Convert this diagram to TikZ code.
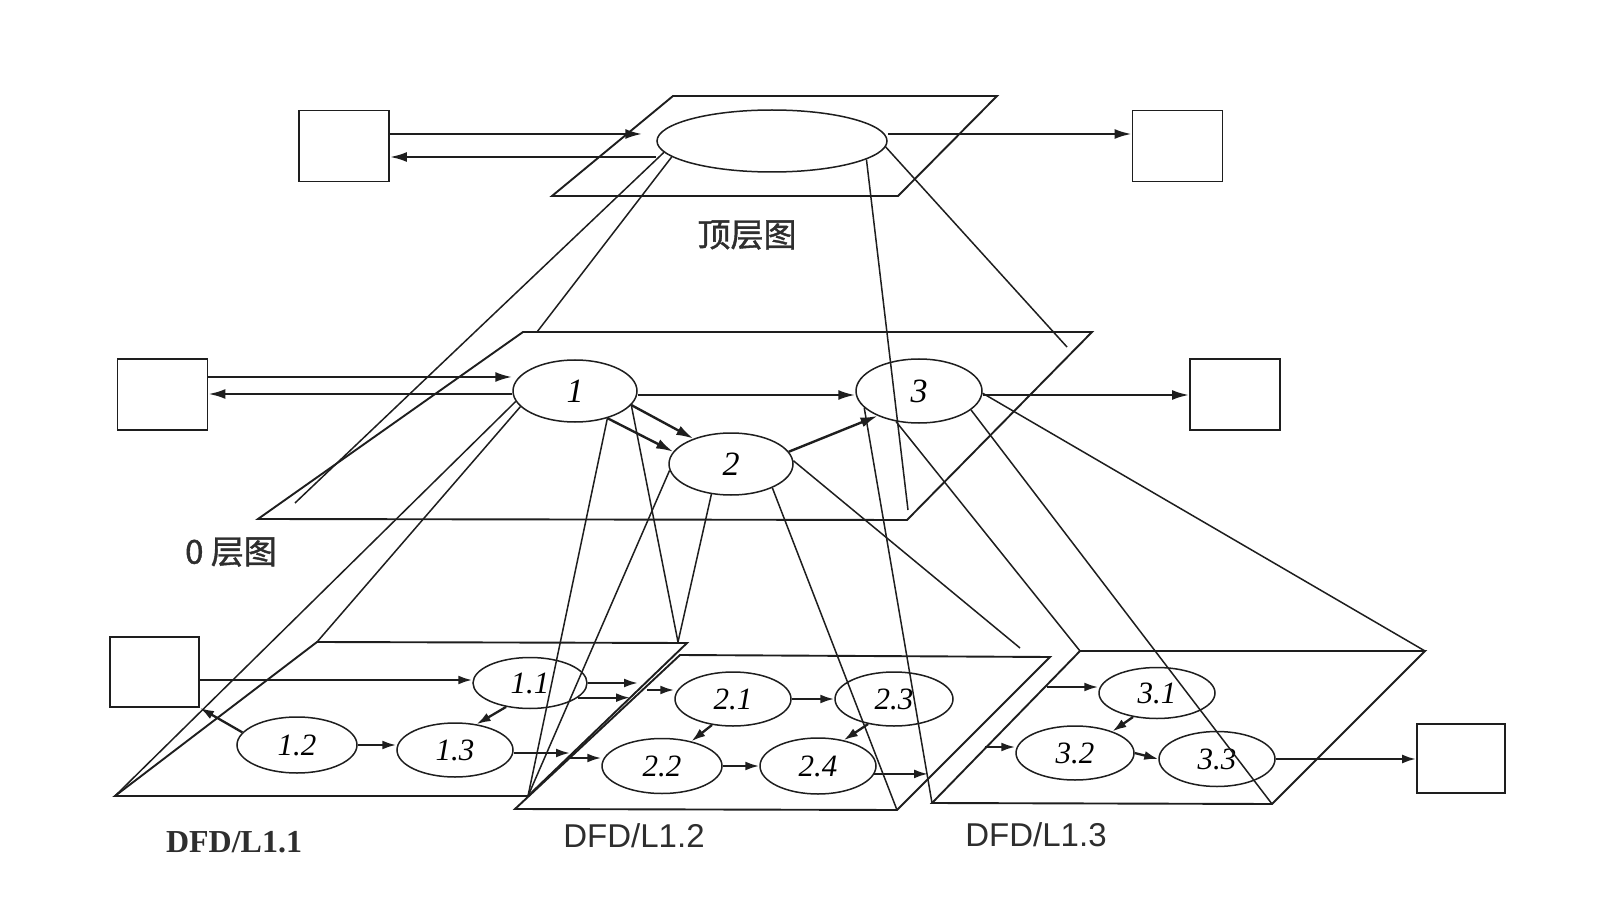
\documentclass[tikz,border=0pt]{standalone}
\usepackage{fontspec}
\setmainfont{Liberation Serif}
\setsansfont{Liberation Sans}
\newfontfamily\cjk[FakeBold=1.2]{Noto Sans CJK SC}
\usetikzlibrary{shapes.geometric,arrows.meta,calc}
\definecolor{ink}{HTML}{1E1E1E}
\definecolor{lab}{HTML}{2E2E2E}
\begin{document}
\begin{tikzpicture}[x=1pt,y=-1pt,
  box/.style={draw=ink, line width=1.9pt, minimum width=90pt, minimum height=71pt, inner sep=0pt},
  proc/.style={ellipse, draw=ink, line width=1.5pt, inner sep=0pt, font=\fontsize{31pt}{31pt}\selectfont\itshape},
  bigproc/.style={proc, font=\fontsize{34pt}{34pt}\selectfont\itshape},
  plane/.style={draw=ink, line width=1.9pt, line join=miter},
  proj/.style={draw=ink, line width=1.5pt},
  arr/.style={draw=ink, line width=2.4pt, -{Latex[length=17pt,width=10pt]}},
  sarr/.style={draw=ink, line width=2.3pt, -{Latex[length=14pt,width=9pt]}},
  lbl/.style={text=lab, inner sep=0pt}
]
\useasboundingbox (0,0) rectangle (1618,917);
\fill[white] (0,0) rectangle (1618,917);

% ---------- planes ----------
\coordinate (T1) at (673,96);  \coordinate (T2) at (997,96);
\coordinate (T3) at (898,196); \coordinate (T4) at (552,196);
\coordinate (Z1) at (523,332); \coordinate (Z2) at (1092,332);
\coordinate (Z3) at (907,520); \coordinate (Z4) at (258,519);
\coordinate (A1) at (317,642); \coordinate (A2) at (687,643);
\coordinate (A3) at (528,796); \coordinate (A4) at (115,796);
\coordinate (B1) at (680,655); \coordinate (B2) at (1050,657);
\coordinate (B3) at (897,810); \coordinate (B4) at (515,809);
\coordinate (C1) at (1080,651); \coordinate (C2) at (1425,651);
\coordinate (C3) at (1272,804); \coordinate (C4) at (932,803);

\draw[plane] (T1) -- (T2) -- (T3) -- (T4) -- cycle;
\draw[plane] (Z1) -- (Z2) -- (Z3) -- (Z4) -- cycle;
\draw[plane] (A1) -- (A2) -- (A3) -- (A4) -- cycle;
\draw[plane] (B1) -- (B2) -- (B3) -- (B4) -- cycle;
\draw[plane] (C1) -- (C2) -- (C3) -- (C4) -- cycle;

% free ends of projection lines
\coordinate (pA) at (295,503);
\coordinate (pB) at (537,332);
\coordinate (pC) at (1067,347);
\coordinate (pD) at (908,510);
\coordinate (pV) at (678,642);
\coordinate (pE) at (1020,648);

% free ends of boundary arrows
\coordinate (c1) at (638,683);
\coordinate (c2) at (630,697);
\coordinate (c3) at (647,690);
\coordinate (c4) at (570,753);
\coordinate (c5) at (570,758);
\coordinate (c6) at (928,774);
\coordinate (c7) at (1047,687);
\coordinate (c8) at (985,747);

% y levels
\coordinate (yT1) at (0,134);
\coordinate (yT2) at (0,157);
\coordinate (y01) at (0,377);
\coordinate (y02) at (0,394);
\coordinate (y03) at (0,395);
\coordinate (y11) at (0,680);

% ---------- nodes ----------
\node[box] (bT1) at (344,146) {};
\node[box] (bT2) at (1177.5,146) {};
\node[box] (b01) at (162.5,394.5) {};
\node[box] (b02) at (1235,394.5) {};
\node[box, minimum width=89pt, minimum height=70pt] (b11) at (154.5,672) {};
\node[box, minimum width=88pt, minimum height=69pt] (b12) at (1461,758.5) {};

\node[proc, minimum width=230pt, minimum height=62pt] (topE) at (772,141) {};
\node[bigproc, minimum width=124pt, minimum height=62pt] (e1) at (575,391) {1};
\node[bigproc, minimum width=124pt, minimum height=62pt] (e2) at (731,464) {2};
\node[bigproc, minimum width=126pt, minimum height=64pt] (e3) at (919,391) {3};

\node[proc, minimum width=114pt, minimum height=51pt] (e11) at (530,683) {1.1};
\node[proc, minimum width=120pt, minimum height=56pt] (e12) at (297,745) {1.2};
\node[proc, minimum width=116pt, minimum height=54pt] (e13) at (455,750) {1.3};
\node[proc, minimum width=116pt, minimum height=54pt] (e21) at (733,699) {2.1};
\node[proc, minimum width=120pt, minimum height=55pt] (e22) at (662,766) {2.2};
\node[proc, minimum width=118pt, minimum height=54pt] (e23) at (894,699) {2.3};
\node[proc, minimum width=116pt, minimum height=56pt] (e24) at (818,766) {2.4};
\node[proc, minimum width=116pt, minimum height=51pt] (e31) at (1157,693) {3.1};
\node[proc, minimum width=118pt, minimum height=54pt] (e32) at (1075,753) {3.2};
\node[proc, minimum width=116pt, minimum height=55pt] (e33) at (1217,759) {3.3};

% ---------- labels ----------
\node[lbl, font=\cjk\fontsize{33pt}{33pt}\selectfont] (lt) at (747,235) {顶层图};
\node[lbl, font=\cjk\fontsize{33pt}{33pt}\selectfont] (l0) at (231,552) {0 层图};
\node[lbl, font=\rmfamily\bfseries\fontsize{32pt}{32pt}\selectfont] (l11) at (234,842) {DFD/L1.1};
\node[lbl, font=\sffamily\fontsize{33pt}{33pt}\selectfont] (l12) at (634,836) {DFD/L1.2};
\node[lbl, font=\sffamily\fontsize{33pt}{33pt}\selectfont] (l13) at (1036,835) {DFD/L1.3};

% ---------- projection lines ----------
\draw[proj] (topE.186) -- (pA);
\draw[proj] (topE.189) -- (pB);
\draw[proj] (topE.-3) -- (pC);
\draw[proj] (topE.-11) -- (pD);
\draw[proj] (e1.190) -- (A4);
\draw[proj] (e1.196) -- (A1);
\draw[proj] (e1.-40) -- (A3);
\draw[proj] (e1.-14) -- (pV);
\draw[proj] (e2.186) -- (A3);
\draw[proj] (e2.237) -- (pV);
\draw[proj] (e2.-30) -- (B3);
\draw[proj] (e2.3) -- (pE);
\draw[proj] (e3.197) -- (C4);
\draw[proj] (e3.233) -- (C1);
\draw[proj] (e3.-20) -- (C3);
\draw[proj] (e3.-2) -- (C2);

% ---------- top level flows ----------
\draw[arr, shorten >=14pt] (bT1.east |- yT1) -- (topE.west |- yT1);
\draw[arr] (topE.west |- yT2) -- (bT1.east |- yT2);
\draw[arr] (topE.east |- yT1) -- (bT2.west |- yT1);

% ---------- level 0 flows ----------
\draw[arr] (b01.east |- y01) -- (e1.west |- y01);
\draw[arr] (e1.west |- y02) -- (b01.east |- y02);
\draw[arr] (e1.east |- y03) -- (e3.west |- y03);
\draw[arr] (e3.east |- y03) -- (b02.west |- y03);
\draw[arr] (e1.-14) -- (e2.146);
\draw[arr] (e1.-40) -- (e2.168);
\draw[arr] (e2.12) -- (e3.211);

% ---------- level 1 flows ----------
\draw[sarr] (b11.east |- y11) -- (e11.west |- y11);
\draw[sarr] (e12.167) -- (b11.south east);
\draw[sarr] (e12.east) -- (e13.west |- e12.east);
\draw[sarr] (e11.225) -- (e13.50);
\draw[sarr] (e11.east) -- (c1);
\draw[sarr] (e11.-17) -- (e11.-17 -| c2);
\draw[sarr] (c3) -- (e21.west |- c3);
\draw[sarr] (e13.east |- c4) -- (c4);
\draw[sarr] (c5) -- (e22.west |- c5);
\draw[sarr] (e21.east) -- (e23.west);
\draw[sarr] (e22.east) -- (e24.west);
\draw[sarr] (e21.231) -- (e22.40);
\draw[sarr] (e23.224) -- (e24.45);
\draw[sarr] (e24.-8) -- (e24.-8 -| c6);
\draw[sarr] (c7) -- (e31.west |- c7);
\draw[sarr] (c8) -- (e32.west |- c8);
\draw[sarr] (e31.225) -- (e32.30);
\draw[sarr] (e32.east) -- (e33.west);
\draw[sarr] (e33.east) -- (b12.west |- e33.east);
\end{tikzpicture}
\end{document}
